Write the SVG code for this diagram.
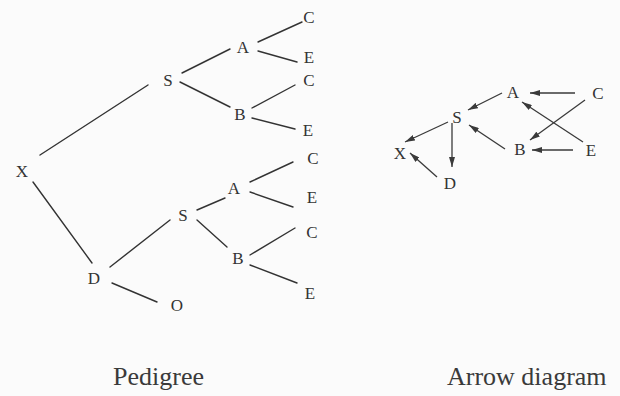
<svg xmlns="http://www.w3.org/2000/svg" width="620" height="396" viewBox="0 0 620 396">
<defs>
<marker id="ah" viewBox="0 0 10 6" refX="10" refY="3" markerWidth="10" markerHeight="6" markerUnits="userSpaceOnUse" orient="auto">
<path d="M0,0 L10,3 L0,6 Z" fill="#3a3a3a"/>
</marker>
<style>
.n{font-family:"Liberation Serif","Times New Roman",serif;font-size:17px;fill:#333;text-anchor:middle}
.cap{font-family:"Liberation Serif","Times New Roman",serif;font-size:26px;fill:#3a3a3a}
.l{stroke:#333;stroke-width:1.4;fill:none;stroke-linecap:round}
.a{stroke:#3a3a3a;stroke-width:1.3;fill:none;marker-end:url(#ah)}
</style>
</defs>
<rect width="620" height="396" fill="#fbfbfb"/>
<g id="connectors">
<line class="l" x1="40" y1="155" x2="148" y2="85"/>
<line class="l" x1="182" y1="73" x2="230" y2="49"/>
<line class="l" x1="258" y1="42" x2="302" y2="22"/>
<line class="l" x1="258" y1="51" x2="297" y2="62"/>
<line class="l" x1="180" y1="82" x2="230" y2="107"/>
<line class="l" x1="252" y1="108" x2="295" y2="85"/>
<line class="l" x1="252" y1="118" x2="295" y2="129"/>
<line class="l" x1="33" y1="182" x2="92" y2="263"/>
<line class="l" x1="110" y1="267" x2="170" y2="220"/>
<line class="l" x1="197" y1="210" x2="225" y2="198"/>
<line class="l" x1="250" y1="182" x2="293" y2="162"/>
<line class="l" x1="250" y1="192" x2="293" y2="207"/>
<line class="l" x1="197" y1="220" x2="227" y2="247"/>
<line class="l" x1="250" y1="255" x2="295" y2="228"/>
<line class="l" x1="250" y1="265" x2="297" y2="283"/>
<line class="l" x1="112" y1="283" x2="157" y2="302"/>
<line class="a" x1="575" y1="93" x2="530" y2="93"/>
<line class="a" x1="583" y1="142" x2="522" y2="102"/>
<line class="a" x1="585" y1="100" x2="530" y2="140"/>
<line class="a" x1="573" y1="150" x2="532" y2="150"/>
<line class="a" x1="502" y1="93" x2="468" y2="110"/>
<line class="a" x1="505" y1="149" x2="469" y2="125"/>
<line class="a" x1="448" y1="122" x2="405" y2="142"/>
<line class="a" x1="452" y1="123" x2="452" y2="167"/>
<line class="a" x1="437" y1="177" x2="410" y2="153"/>
</g>
<g id="ped-X"><text class="n" x="22" y="177">X</text></g>
<g id="ped-S1"><text class="n" x="168" y="86">S</text></g>
<g id="ped-A1"><text class="n" x="243" y="53">A</text></g>
<g id="ped-C1"><text class="n" x="309" y="23">C</text></g>
<g id="ped-E1"><text class="n" x="309" y="63">E</text></g>
<g id="ped-B1"><text class="n" x="240" y="120">B</text></g>
<g id="ped-C2"><text class="n" x="309" y="86">C</text></g>
<g id="ped-E2"><text class="n" x="308" y="136">E</text></g>
<g id="ped-D"><text class="n" x="94" y="284">D</text></g>
<g id="ped-O"><text class="n" x="177" y="311">O</text></g>
<g id="ped-S2"><text class="n" x="183" y="221">S</text></g>
<g id="ped-A2"><text class="n" x="234" y="194">A</text></g>
<g id="ped-C3"><text class="n" x="313" y="164">C</text></g>
<g id="ped-E3"><text class="n" x="312" y="203">E</text></g>
<g id="ped-B2"><text class="n" x="238" y="264">B</text></g>
<g id="ped-C4"><text class="n" x="312" y="238">C</text></g>
<g id="ped-E4"><text class="n" x="310" y="299">E</text></g>
<g id="arr-A"><text class="n" x="513" y="98">A</text></g>
<g id="arr-C"><text class="n" x="598" y="99">C</text></g>
<g id="arr-S"><text class="n" x="457" y="123">S</text></g>
<g id="arr-B"><text class="n" x="520" y="155">B</text></g>
<g id="arr-E"><text class="n" x="591" y="156">E</text></g>
<g id="arr-X"><text class="n" x="400" y="159">X</text></g>
<g id="arr-D"><text class="n" x="450" y="189">D</text></g>
<g id="captions">
<text class="cap" x="113" y="385">Pedigree</text>
<text class="cap" x="447" y="385">Arrow diagram</text>
</g>
</svg>
